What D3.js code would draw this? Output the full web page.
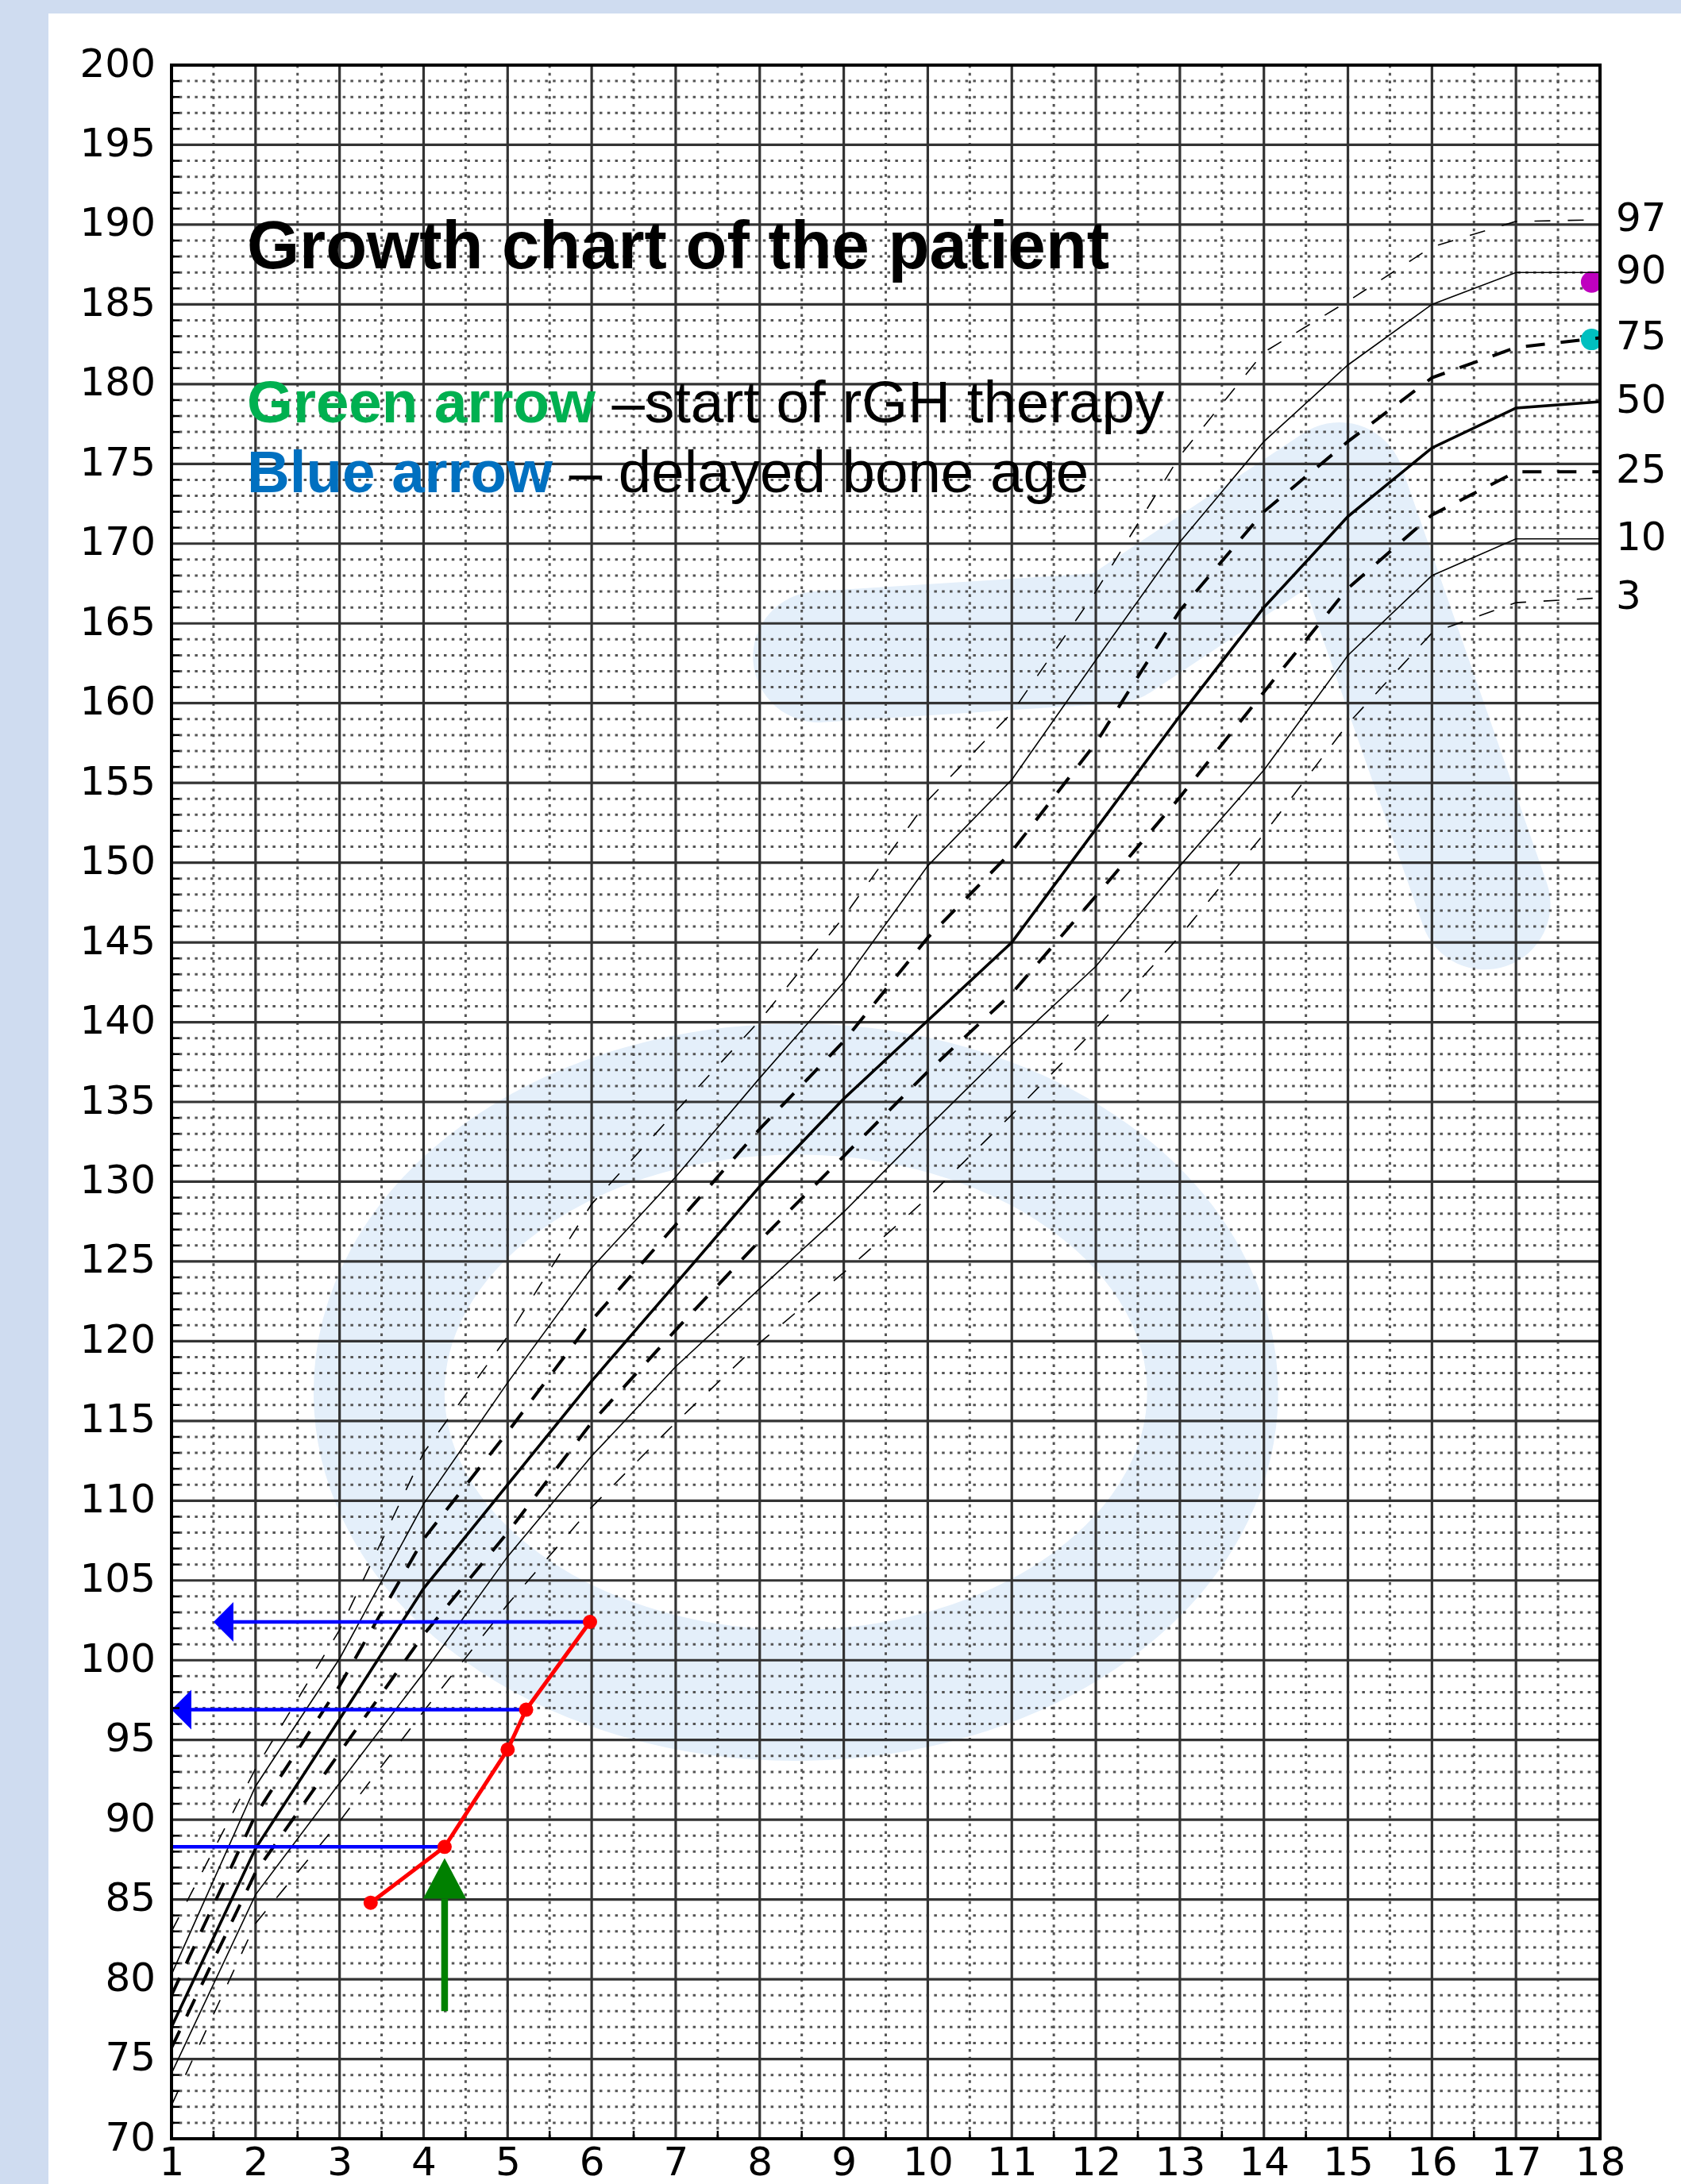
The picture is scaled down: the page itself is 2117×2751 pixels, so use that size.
<!DOCTYPE html>
<html>
<head>
<meta charset="utf-8">
<script src="https://cdn.jsdelivr.net/npm/d3@7"></script>
<style>
  body { margin: 0; background: #cfdcf0; }
  svg { display: block; }
</style>
</head>
<body>
<svg id="chart" width="2117" height="2751"></svg>
<script>
// percentile curves (height, cm) for ages 1..18
const ages = d3.range(1, 19);
const p97 = [83.0, 93.2, 101.9, 113.0, 120.3, 128.6, 134.4, 140.1, 146.6, 153.9, 159.4, 167.0, 175.5, 182.0, 185.2, 188.6, 190.2, 190.3];
const p90 = [80.3, 92.1, 100.1, 109.8, 117.4, 124.6, 130.3, 136.5, 142.5, 149.8, 155.2, 162.7, 170.1, 176.4, 181.2, 185.0, 187.0, 187.0];
const p75 = [79.0, 90.3, 98.4, 107.6, 114.3, 121.3, 127.3, 133.3, 138.8, 145.3, 150.7, 157.5, 165.8, 172.0, 176.4, 180.4, 182.3, 182.9];
const p50 = [77.0, 88.2, 96.3, 104.5, 111.0, 117.5, 123.6, 129.7, 135.2, 140.1, 145.0, 152.1, 159.2, 166.0, 171.7, 176.0, 178.5, 178.9];
const p25 = [75.7, 86.7, 94.2, 101.6, 108.0, 114.9, 120.7, 126.3, 131.6, 136.9, 141.8, 147.9, 154.1, 160.7, 167.2, 171.8, 174.5, 174.5];
const p10 = [74.1, 85.3, 92.3, 99.2, 106.5, 112.8, 118.4, 123.3, 128.1, 133.4, 138.6, 143.5, 149.8, 155.8, 163.0, 168.0, 170.3, 170.3];
const p3  = [72.1, 83.5, 89.9, 96.8, 103.5, 109.6, 114.9, 119.9, 124.3, 129.0, 134.2, 139.6, 145.4, 151.8, 158.7, 164.4, 166.3, 166.6];
const percentileNames = ['97', '90', '75', '50', '25', '10', '3'];

// patient measurements
const patientAges = [3.37, 4.25, 5.0, 5.22, 5.98];
const patientHeights = [84.8, 88.3, 94.4, 96.9, 102.4];

// bone age (blue arrows): from chronological age back to bone age
const boneFromAges = [4.25, 5.22, 5.98];
const boneToAges = [1.0, 1.0, 1.5];
const boneHeights = [88.3, 96.9, 102.4];
const boneHasHead = [false, true, true];

// start of therapy (green arrow)
const therapyAge = 4.25;
const therapyFrom = 78.0;
const therapyTo = 87.6;

// target height dots at the right edge
const targetAges = [17.9, 17.9];
const targetHeights = [186.4, 182.8];

const heightTicks = d3.range(70, 201, 5);
const heightMinor = d3.range(70, 201).filter(v => v % 5 !== 0);
const ageHalf = d3.range(1.5, 18, 1);

const svg = d3.select('#chart');
const plotLeft = 216, plotRight = 2015, plotTop = 82, plotBottom = 2694;

const x = d3.scaleLinear().domain([1, 18]).range([plotLeft, plotRight]);
const y = d3.scaleLinear().domain([70, 200]).range([plotBottom, plotTop]);

// white panel
svg.append('rect')
  .attr('x', 61).attr('y', 17)
  .attr('width', 2117 - 61).attr('height', 2751 - 17)
  .attr('fill', '#ffffff');

svg.append('defs').append('clipPath').attr('id', 'plot-clip')
  .append('rect')
  .attr('x', plotLeft).attr('y', plotTop)
  .attr('width', plotRight - plotLeft).attr('height', plotBottom - plotTop);

// faint watermark behind the grid
const markColor = '#e4effa';
const mark = svg.append('g').attr('clip-path', 'url(#plot-clip)');
mark.append('ellipse')
  .attr('cx', x(8.43)).attr('cy', y(116.8))
  .attr('rx', x(8.43 + 4.96) - x(8.43))
  .attr('ry', y(116.8 - 19.0) - y(116.8))
  .attr('fill', 'none')
  .attr('stroke', markColor)
  .attr('stroke-width', 165);
mark.append('path')
  .datum([[8.7, 162.9], [12.22, 164.1], [14.9, 173.5], [16.63, 147.4]])
  .attr('d', d3.line().x(d => x(d[0])).y(d => y(d[1])))
  .attr('fill', 'none')
  .attr('stroke', markColor)
  .attr('stroke-width', 165)
  .attr('stroke-linecap', 'round')
  .attr('stroke-linejoin', 'round');

// grid
const grid = svg.append('g');
grid.selectAll('.minor-h')
  .data(heightMinor)
  .enter()
  .append('line')
  .attr('x1', plotLeft).attr('x2', plotRight)
  .attr('y1', d => y(d)).attr('y2', d => y(d))
  .attr('stroke', '#555')
  .attr('stroke-width', 3)
  .attr('stroke-dasharray', '3.5,6.3');
grid.selectAll('.minor-v')
  .data(ageHalf)
  .enter()
  .append('line')
  .attr('x1', d => x(d)).attr('x2', d => x(d))
  .attr('y1', plotTop).attr('y2', plotBottom)
  .attr('stroke', '#555')
  .attr('stroke-width', 3)
  .attr('stroke-dasharray', '3.5,6.3');
grid.selectAll('.major-h')
  .data(heightTicks)
  .enter()
  .append('line')
  .attr('x1', plotLeft).attr('x2', plotRight)
  .attr('y1', d => y(d)).attr('y2', d => y(d))
  .attr('stroke', '#333')
  .attr('stroke-width', 3.2);
grid.selectAll('.major-v')
  .data(ages)
  .enter()
  .append('line')
  .attr('x1', d => x(d)).attr('x2', d => x(d))
  .attr('y1', plotTop).attr('y2', plotBottom)
  .attr('stroke', '#333')
  .attr('stroke-width', 3.2);

const plot = svg.append('g').attr('clip-path', 'url(#plot-clip)');

// target dots (drawn under the curves)
plot.selectAll('.target')
  .data(targetAges)
  .enter()
  .append('circle')
  .attr('cx', d => x(d))
  .attr('cy', (d, i) => y(targetHeights[i]))
  .attr('r', 13.5)
  .attr('fill', (d, i) => (i === 0 ? '#bf00bf' : '#00bfbf'));

// percentile curves
const curves = [
  { name: percentileNames[0], values: p97, width: 1.6, dash: '20,22' },
  { name: percentileNames[1], values: p90, width: 1.6, dash: null },
  { name: percentileNames[2], values: p75, width: 4, dash: '24,20' },
  { name: percentileNames[3], values: p50, width: 3.6, dash: null },
  { name: percentileNames[4], values: p25, width: 4, dash: '24,20' },
  { name: percentileNames[5], values: p10, width: 1.6, dash: null },
  { name: percentileNames[6], values: p3, width: 1.6, dash: '20,22' },
];
const curveLine = d3.line()
  .x((d, i) => x(ages[i]))
  .y(d => y(d));

plot.selectAll('.percentile')
  .data(curves)
  .enter()
  .append('path')
  .attr('d', d => curveLine(d.values))
  .attr('fill', 'none')
  .attr('stroke', '#000')
  .attr('stroke-width', d => d.width)
  .attr('stroke-dasharray', d => d.dash);

// blue arrows: delayed bone age
plot.selectAll('.bone-line')
  .data(boneHeights)
  .enter()
  .append('line')
  .attr('x1', (d, i) => x(boneFromAges[i]))
  .attr('x2', (d, i) => x(boneToAges[i]) + (boneHasHead[i] ? 20 : 0))
  .attr('y1', d => y(d)).attr('y2', d => y(d))
  .attr('stroke', '#0000ff')
  .attr('stroke-width', 4.5);
plot.selectAll('.bone-head')
  .data(boneHeights.filter((d, i) => boneHasHead[i]))
  .enter()
  .append('path')
  .attr('d', (d) => {
    const i = boneHeights.indexOf(d);
    const tx = x(boneToAges[i]);
    const ty = y(d);
    return `M${tx},${ty}L${tx + 25},${ty - 25}L${tx + 25},${ty + 25}Z`;
  })
  .attr('fill', '#0000ff');

// green arrow: start of therapy
const gx = x(therapyAge);
const headBase = y(therapyTo) + 51;
plot.append('line')
  .attr('x1', gx).attr('x2', gx)
  .attr('y1', y(therapyFrom)).attr('y2', headBase)
  .attr('stroke', '#008000')
  .attr('stroke-width', 8.5);
plot.append('path')
  .attr('d', `M${gx},${y(therapyTo)}L${gx - 27},${headBase}L${gx + 27},${headBase}Z`)
  .attr('fill', '#008000');

// patient growth
plot.append('path')
  .datum(patientHeights)
  .attr('d', d3.line().x((d, i) => x(patientAges[i])).y(d => y(d)))
  .attr('fill', 'none')
  .attr('stroke', '#ff0000')
  .attr('stroke-width', 5);
plot.selectAll('.patient')
  .data(patientHeights)
  .enter()
  .append('circle')
  .attr('cx', (d, i) => x(patientAges[i]))
  .attr('cy', d => y(d))
  .attr('r', 9)
  .attr('fill', '#ff0000');

// minor ticks
svg.append('g').selectAll('line')
  .data(heightMinor)
  .enter()
  .append('line')
  .attr('x1', plotLeft).attr('x2', plotLeft + 10)
  .attr('y1', d => y(d)).attr('y2', d => y(d))
  .attr('stroke', '#000')
  .attr('stroke-width', 2.5);
svg.append('g').selectAll('line')
  .data(ageHalf)
  .enter()
  .append('line')
  .attr('x1', d => x(d)).attr('x2', d => x(d))
  .attr('y1', plotBottom).attr('y2', plotBottom - 10)
  .attr('stroke', '#000')
  .attr('stroke-width', 2.5);

// frame
svg.append('rect')
  .attr('x', plotLeft).attr('y', plotTop)
  .attr('width', plotRight - plotLeft).attr('height', plotBottom - plotTop)
  .attr('fill', 'none')
  .attr('stroke', '#000')
  .attr('stroke-width', 4);

// axis labels
svg.append('g')
  .attr('transform', `translate(${plotLeft},0)`)
  .call(d3.axisLeft(y).tickValues(heightTicks).tickSize(0).tickPadding(20))
  .call(g => g.select('.domain').remove())
  .attr('font-family', 'DejaVu Sans')
  .attr('font-size', 50)
  .selectAll('text')
  .attr('fill', '#000')
  .attr('dy', '0.28em');

svg.append('g')
  .attr('transform', `translate(0,${plotBottom})`)
  .call(d3.axisBottom(x).tickValues(ages).tickSize(0).tickPadding(10))
  .call(g => g.select('.domain').remove())
  .attr('font-family', 'DejaVu Sans')
  .attr('font-size', 50)
  .selectAll('text')
  .attr('fill', '#000');

// percentile names at right
svg.append('g').selectAll('text')
  .data(curves)
  .enter()
  .append('text')
  .attr('x', plotRight + 20)
  .attr('y', d => y(d.values[d.values.length - 1]))
  .attr('dy', '0.28em')
  .attr('font-family', 'DejaVu Sans')
  .attr('font-size', 50)
  .attr('fill', '#000')
  .text(d => d.name);

// title and notes
const notes = svg.append('g').attr('font-family', 'Liberation Sans, Arial, sans-serif');
notes.append('text')
  .attr('x', 311).attr('y', 338)
  .attr('font-size', 85)
  .attr('font-weight', 'bold')
  .attr('fill', '#000')
  .text('Growth chart of the patient');

const note1 = notes.append('text').attr('x', 311).attr('y', 532).attr('font-size', 74.5);
note1.append('tspan').attr('font-weight', 'bold').attr('fill', '#00b050').text('Green arrow');
note1.append('tspan').attr('fill', '#000').text(' \u2013start of rGH therapy');

const note2 = notes.append('text').attr('x', 311).attr('y', 620).attr('font-size', 74.5);
note2.append('tspan').attr('font-weight', 'bold').attr('fill', '#0070c0').text('Blue arrow');
note2.append('tspan').attr('fill', '#000').text(' \u2013 delayed bone age');
</script>
</body>
</html>
